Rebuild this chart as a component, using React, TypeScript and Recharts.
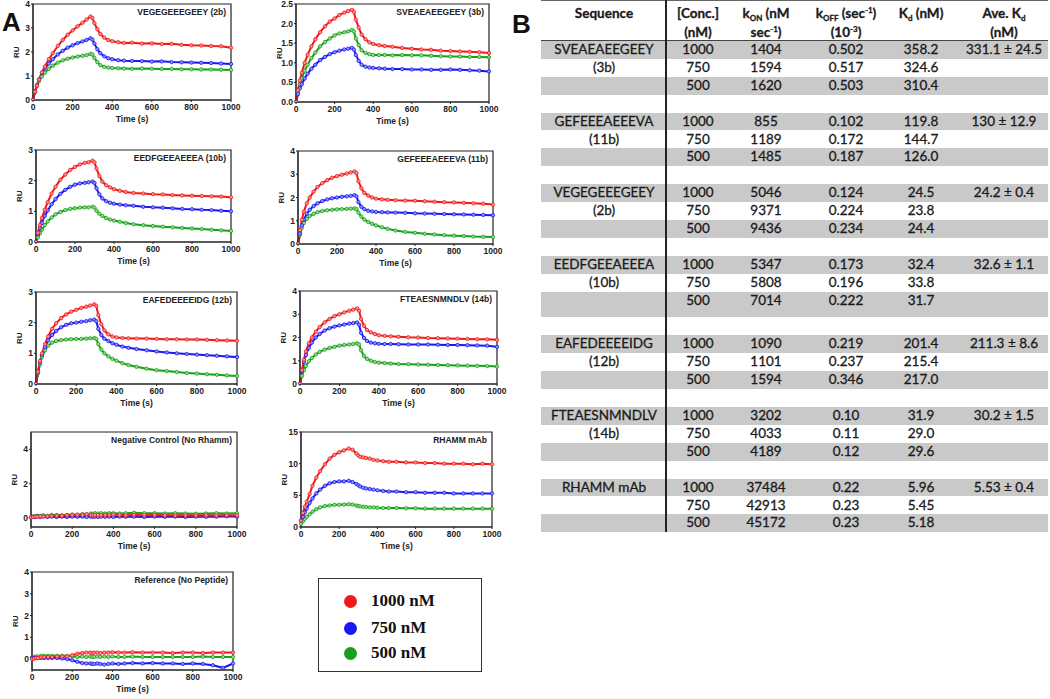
import React from 'react';
import { LineChart, Line, XAxis, YAxis, ReferenceArea } from 'recharts';

// ---------- time base (s) shared by all sensorgrams ----------
const TIME = [0, 10, 20, 30, 45, 60, 80, 100, 125, 150, 175, 200, 225, 250, 270, 290, 300, 310, 325, 340, 360, 380, 400, 430, 460, 500, 550, 600, 650, 700, 750, 800, 850, 900, 950, 1000];
const X_TICKS = [0, 200, 400, 600, 800, 1000];

// ---------- VEGEGEEEGEEY (2b) ----------
const P2B_RED = [0, 0.35, 0.6, 0.85, 1.15, 1.4, 1.7, 1.95, 2.25, 2.5, 2.72, 2.9, 3.07, 3.22, 3.35, 3.48, 3.42, 3.2, 2.95, 2.75, 2.6, 2.5, 2.45, 2.41, 2.38, 2.39, 2.35, 2.36, 2.33, 2.34, 2.3, 2.28, 2.27, 2.25, 2.24, 2.18];
const P2B_BLUE = [0, 0.35, 0.62, 0.85, 1.12, 1.32, 1.52, 1.7, 1.9, 2.05, 2.18, 2.28, 2.37, 2.44, 2.5, 2.57, 2.52, 2.35, 2.12, 1.95, 1.82, 1.74, 1.7, 1.66, 1.64, 1.63, 1.62, 1.6, 1.61, 1.58, 1.57, 1.56, 1.55, 1.54, 1.52, 1.5];
const P2B_GREEN = [0, 0.32, 0.58, 0.78, 0.98, 1.14, 1.3, 1.43, 1.56, 1.65, 1.72, 1.77, 1.81, 1.84, 1.87, 1.92, 1.9, 1.75, 1.58, 1.45, 1.38, 1.35, 1.33, 1.32, 1.31, 1.3, 1.31, 1.3, 1.29, 1.29, 1.28, 1.28, 1.27, 1.27, 1.26, 1.25];

// ---------- SVEAEAEEGEEY (3b) ----------
const P3B_RED = [0, 0.3, 0.55, 0.75, 1.0, 1.2, 1.42, 1.6, 1.78, 1.93, 2.05, 2.13, 2.22, 2.28, 2.32, 2.35, 2.3, 2.1, 1.9, 1.72, 1.6, 1.52, 1.48, 1.45, 1.43, 1.41, 1.38, 1.36, 1.34, 1.33, 1.31, 1.3, 1.29, 1.28, 1.27, 1.25];
const P3B_BLUE = [0, 0.2, 0.35, 0.45, 0.6, 0.72, 0.85, 0.95, 1.07, 1.15, 1.22, 1.27, 1.31, 1.34, 1.36, 1.38, 1.34, 1.2, 1.05, 0.95, 0.9, 0.88, 0.87, 0.86, 0.85, 0.84, 0.84, 0.83, 0.83, 0.82, 0.82, 0.83, 0.82, 0.81, 0.8, 0.78];
const P3B_GREEN = [0, 0.25, 0.45, 0.6, 0.8, 0.95, 1.12, 1.26, 1.42, 1.53, 1.62, 1.7, 1.75, 1.78, 1.8, 1.84, 1.8, 1.62, 1.45, 1.32, 1.25, 1.22, 1.2, 1.2, 1.2, 1.19, 1.2, 1.19, 1.19, 1.18, 1.17, 1.16, 1.16, 1.15, 1.15, 1.14];

// ---------- EEDFGEEAEEEA (10b) ----------
const P10B_RED = [0, 0.3, 0.55, 0.78, 1.05, 1.3, 1.58, 1.8, 2.03, 2.2, 2.35, 2.45, 2.53, 2.58, 2.6, 2.65, 2.6, 2.4, 2.15, 1.97, 1.85, 1.78, 1.72, 1.67, 1.63, 1.6, 1.58, 1.56, 1.55, 1.53, 1.52, 1.51, 1.5, 1.49, 1.48, 1.46];
const P10B_BLUE = [0, 0.25, 0.45, 0.62, 0.85, 1.03, 1.23, 1.4, 1.57, 1.7, 1.8, 1.87, 1.91, 1.93, 1.95, 1.97, 1.93, 1.75, 1.55, 1.42, 1.33, 1.28, 1.25, 1.22, 1.2, 1.18, 1.15, 1.13, 1.12, 1.1, 1.08, 1.07, 1.05, 1.04, 1.02, 1.0];
const P10B_GREEN = [0, 0.15, 0.28, 0.4, 0.55, 0.67, 0.8, 0.9, 0.98, 1.04, 1.08, 1.1, 1.12, 1.13, 1.13, 1.15, 1.12, 1.02, 0.92, 0.85, 0.78, 0.73, 0.7, 0.66, 0.62, 0.58, 0.55, 0.52, 0.5, 0.48, 0.46, 0.44, 0.42, 0.4, 0.38, 0.36];

// ---------- GEFEEEAEEEVA (11b) ----------
const P11B_RED = [0, 0.6, 1.05, 1.4, 1.75, 2.0, 2.25, 2.45, 2.62, 2.75, 2.85, 2.92, 2.98, 3.03, 3.08, 3.12, 3.05, 2.7, 2.4, 2.2, 2.08, 2.0, 1.95, 1.92, 1.9, 1.88, 1.87, 1.86, 1.84, 1.82, 1.8, 1.79, 1.77, 1.75, 1.73, 1.7];
const P11B_BLUE = [0, 0.45, 0.8, 1.05, 1.3, 1.47, 1.63, 1.75, 1.85, 1.92, 1.97, 2.0, 2.03, 2.05, 2.07, 2.1, 2.05, 1.8, 1.6, 1.5, 1.43, 1.4, 1.38, 1.37, 1.36, 1.35, 1.34, 1.32, 1.31, 1.3, 1.29, 1.28, 1.27, 1.26, 1.25, 1.24];
const P11B_GREEN = [0, 0.4, 0.7, 0.9, 1.08, 1.2, 1.3, 1.37, 1.42, 1.45, 1.47, 1.49, 1.5, 1.51, 1.52, 1.53, 1.5, 1.35, 1.18, 1.05, 0.95, 0.87, 0.8, 0.72, 0.65, 0.58, 0.52, 0.48, 0.44, 0.41, 0.38, 0.36, 0.34, 0.32, 0.31, 0.3];

// ---------- EAFEDEEEEIDG (12b) ----------
const P12B_RED = [0, 0.4, 0.75, 1.0, 1.3, 1.55, 1.8, 1.98, 2.15, 2.27, 2.36, 2.42, 2.48, 2.52, 2.56, 2.6, 2.55, 2.25, 1.95, 1.75, 1.62, 1.55, 1.52, 1.5, 1.49, 1.48, 1.48, 1.47, 1.46, 1.46, 1.45, 1.45, 1.44, 1.43, 1.42, 1.41];
const P12B_BLUE = [0, 0.38, 0.7, 0.95, 1.2, 1.42, 1.6, 1.73, 1.85, 1.93, 1.98, 2.0, 2.03, 2.05, 2.08, 2.1, 2.05, 1.8, 1.6, 1.48, 1.4, 1.33, 1.28, 1.22, 1.18, 1.14, 1.1, 1.06, 1.03, 1.0, 0.98, 0.96, 0.94, 0.92, 0.9, 0.88];
const P12B_GREEN = [0, 0.35, 0.65, 0.88, 1.1, 1.25, 1.35, 1.4, 1.43, 1.45, 1.46, 1.47, 1.47, 1.48, 1.49, 1.5, 1.47, 1.3, 1.12, 1.0, 0.9, 0.82, 0.76, 0.68, 0.62, 0.56, 0.5, 0.45, 0.42, 0.39, 0.36, 0.34, 0.32, 0.3, 0.28, 0.26];

// ---------- FTEAESNMNDLV (14b) ----------
const P14B_RED = [0, 0.6, 1.05, 1.4, 1.75, 2.0, 2.25, 2.45, 2.65, 2.8, 2.92, 3.0, 3.08, 3.15, 3.2, 3.25, 3.15, 2.8, 2.5, 2.32, 2.22, 2.15, 2.1, 2.07, 2.05, 2.03, 2.01, 2.0, 1.98, 1.97, 1.96, 1.95, 1.94, 1.93, 1.92, 1.9];
const P14B_BLUE = [0, 0.55, 0.95, 1.25, 1.55, 1.78, 2.0, 2.15, 2.3, 2.4, 2.47, 2.52, 2.56, 2.6, 2.62, 2.65, 2.55, 2.2, 1.98, 1.85, 1.78, 1.75, 1.73, 1.72, 1.72, 1.71, 1.7, 1.7, 1.7, 1.69, 1.68, 1.68, 1.67, 1.66, 1.65, 1.6];
const P14B_GREEN = [0, 0.35, 0.6, 0.78, 0.98, 1.12, 1.27, 1.38, 1.48, 1.55, 1.6, 1.65, 1.68, 1.7, 1.72, 1.75, 1.7, 1.45, 1.2, 1.08, 1.0, 0.95, 0.92, 0.9, 0.88, 0.86, 0.85, 0.84, 0.83, 0.82, 0.81, 0.8, 0.79, 0.78, 0.77, 0.75];

// ---------- Negative Control (No Rhamm) ----------
const NEG_RED = [0.05, 0.08, 0.1, 0.1, 0.12, 0.1, 0.12, 0.13, 0.15, 0.15, 0.18, 0.2, 0.22, 0.2, 0.25, 0.2, 0.18, 0.2, 0.2, 0.18, 0.2, 0.2, 0.22, 0.2, 0.18, 0.2, 0.18, 0.2, 0.18, 0.17, 0.18, 0.17, 0.18, 0.16, 0.18, 0.17];
const NEG_BLUE = [0.05, 0.1, 0.08, 0.1, 0.08, 0.1, 0.08, 0.1, 0.08, 0.1, 0.08, 0.1, 0.09, 0.1, 0.08, 0.1, 0.09, 0.1, 0.08, 0.1, 0.09, 0.1, 0.08, 0.1, 0.09, 0.1, 0.08, 0.1, 0.09, 0.1, 0.08, 0.1, 0.09, 0.1, 0.12, 0.1];
const NEG_GREEN = [0.05, 0.1, 0.12, 0.15, 0.15, 0.18, 0.15, 0.2, 0.2, 0.18, 0.2, 0.22, 0.2, 0.25, 0.22, 0.28, 0.25, 0.3, 0.28, 0.3, 0.28, 0.3, 0.3, 0.28, 0.3, 0.32, 0.3, 0.3, 0.28, 0.3, 0.28, 0.27, 0.28, 0.3, 0.28, 0.3];

// ---------- RHAMM mAb ----------
const MAB_RED = [1.0, 2.2, 3.2, 4.0, 5.2, 6.5, 7.8, 8.8, 9.9, 10.8, 11.4, 11.8, 12.1, 12.4, 12.2, 11.6, 11.3, 11.1, 11.0, 10.9, 10.8, 10.6, 10.5, 10.4, 10.3, 10.3, 10.2, 10.2, 10.1, 10.1, 10.0, 10.0, 10.0, 9.9, 10.0, 9.9];
const MAB_BLUE = [1.0, 1.6, 2.3, 2.9, 3.8, 4.5, 5.3, 5.9, 6.5, 6.9, 7.1, 7.2, 7.2, 7.3, 7.1, 6.8, 6.6, 6.4, 6.2, 6.1, 6.0, 5.9, 5.8, 5.7, 5.6, 5.6, 5.5, 5.5, 5.4, 5.4, 5.4, 5.3, 5.3, 5.3, 5.3, 5.3];
const MAB_GREEN = [0.5, 0.9, 1.3, 1.6, 2.0, 2.4, 2.8, 3.1, 3.3, 3.4, 3.5, 3.5, 3.55, 3.6, 3.55, 3.4, 3.3, 3.25, 3.2, 3.15, 3.1, 3.1, 3.05, 3.0, 3.0, 3.0, 2.95, 2.95, 2.9, 2.9, 2.9, 2.9, 2.9, 2.9, 2.9, 2.9];

// ---------- Reference (No Peptide) ----------
const REF_RED = [0.0, 0.02, 0.05, 0.05, 0.08, 0.1, 0.1, 0.1, 0.12, 0.12, 0.13, 0.18, 0.25, 0.28, 0.3, 0.3, 0.28, 0.3, 0.3, 0.28, 0.3, 0.3, 0.32, 0.3, 0.3, 0.32, 0.3, 0.3, 0.3, 0.28, 0.3, 0.3, 0.28, 0.3, 0.3, 0.3];
const REF_BLUE = [0.05, 0.05, 0.05, 0.05, 0.05, 0.05, 0.05, 0.05, 0.05, 0.03, 0.0, -0.05, -0.12, -0.18, -0.2, -0.2, -0.22, -0.22, -0.2, -0.22, -0.25, -0.22, -0.2, -0.22, -0.2, -0.18, -0.2, -0.18, -0.2, -0.2, -0.22, -0.2, -0.22, -0.28, -0.4, -0.2];
const REF_GREEN = [0.08, 0.1, 0.12, 0.12, 0.15, 0.15, 0.15, 0.15, 0.15, 0.15, 0.15, 0.12, 0.1, 0.12, 0.1, 0.12, 0.1, 0.1, 0.12, 0.1, 0.12, 0.1, 0.12, 0.1, 0.1, 0.12, 0.1, 0.1, 0.1, 0.1, 0.1, 0.1, 0.12, 0.1, 0.1, 0.1];

// ---------- legend ----------
const LEGEND_LABELS = ['1000 nM', '750 nM', '500 nM'];

// ---------- table B ----------
const SEQ_NAMES = ['SVEAEAEEGEEY', 'GEFEEEAEEEVA', 'VEGEGEEEGEEY', 'EEDFGEEAEEEA', 'EAFEDEEEEIDG', 'FTEAESNMNDLV', 'RHAMM mAb'];
const SEQ_IDS = ['(3b)', '(11b)', '(2b)', '(10b)', '(12b)', '(14b)', ''];
const CONC = ['1000', '750', '500'];
const KON = [['1404', '1594', '1620'], ['855', '1189', '1485'], ['5046', '9371', '9436'], ['5347', '5808', '7014'], ['1090', '1101', '1594'], ['3202', '4033', '4189'], ['37484', '42913', '45172']];
const KOFF = [['0.502', '0.517', '0.503'], ['0.102', '0.172', '0.187'], ['0.124', '0.224', '0.234'], ['0.173', '0.196', '0.222'], ['0.219', '0.237', '0.346'], ['0.10', '0.11', '0.12'], ['0.22', '0.23', '0.23']];
const KD = [['358.2', '324.6', '310.4'], ['119.8', '144.7', '126.0'], ['24.5', '23.8', '24.4'], ['32.4', '33.8', '31.7'], ['201.4', '215.4', '217.0'], ['31.9', '29.0', '29.6'], ['5.96', '5.45', '5.18']];
const AVE_KD = ['331.1 ± 24.5', '130 ± 12.9', '24.2 ± 0.4', '32.6 ± 1.1', '211.3 ± 8.6', '30.2 ± 1.5', '5.53 ± 0.4'];

// ---------- styles ----------
const RED = '#f01818';
const BLUE = '#1818f0';
const GREEN = '#18a018';
const RED_T = '#ff9090';
const BLUE_T = '#9090ff';
const GREEN_T = '#90dd90';
const AXIS_FONT = 'Liberation Sans, Arial, sans-serif';
const TICK = { fontSize: 8.5, fontWeight: 700, fill: '#222', fontFamily: AXIS_FONT };

const YW = 22, ML = 2, MT = 6, MR = 14, XH = 26, MB = 2;

type PanelProps = {
  frame: [number, number, number, number];
  title: string;
  yDomain: [number, number];
  yTicks: number[];
  fmt?: (v: number) => string;
  red: number[];
  blue: number[];
  green: number[];
};

function Panel({ frame, title, yDomain, yTicks, fmt, red, blue, green }: PanelProps) {
  const [L, T, R, B] = frame;
  const w = R - L + YW + ML + MR;
  const h = B - T + MT + XH + MB;
  const data = TIME.map((t, i) => ({ t, r: red[i], b: blue[i], g: green[i] }));
  const series = [
    { key: 'g', c: GREEN, tint: GREEN_T },
    { key: 'b', c: BLUE, tint: BLUE_T },
    { key: 'r', c: RED, tint: RED_T },
  ];
  return (
    <div style={{ position: 'absolute', left: L - YW - ML, top: T - MT }}>
      <LineChart width={w} height={h} data={data} margin={{ top: MT, right: MR, left: ML, bottom: MB }}>
        <XAxis
          dataKey="t"
          type="number"
          domain={[0, 1000]}
          ticks={X_TICKS}
          interval={0}
          height={XH}
          tickSize={2}
          tickMargin={2}
          tick={TICK}
          stroke="#222"
          label={{ value: 'Time (s)', position: 'insideBottom', offset: 4, style: { ...TICK } }}
        />
        <YAxis
          type="number"
          domain={yDomain}
          ticks={yTicks}
          interval={0}
          allowDataOverflow
          width={YW}
          tickSize={2}
          tickMargin={1}
          tick={TICK}
          tickFormatter={fmt}
          stroke="#222"
          label={{ value: 'RU', angle: -90, position: 'insideLeft', offset: 5, dy: 6, style: { ...TICK, fontSize: 8 } }}
        />
        <ReferenceArea
          x1={0}
          x2={1000}
          y1={yDomain[0]}
          y2={yDomain[1]}
          fill="none"
          stroke="#222"
          strokeWidth={1.2}
          ifOverflow="visible"
          label={{ value: title, position: 'insideTopRight', offset: 5, style: { ...TICK, fontSize: 8.5 } }}
        />
        {series.map((s) => (
          <Line
            key={s.key}
            dataKey={s.key}
            type="linear"
            stroke={s.c}
            strokeWidth={2}
            dot={{ r: 1.7, fill: s.tint, stroke: s.c, strokeWidth: 0.8 }}
            activeDot={false}
            isAnimationActive={false}
          />
        ))}
      </LineChart>
    </div>
  );
}

const TABLE_FONT = 'Lato, "Open Sans", sans-serif';
const GRAY = '#c9c9c9';
const ROW_H = 17.9;
const COL_CENTERS = [604, 698, 766, 846, 921, 1004];
const TABLE_LEFT = 541;

function Cell({ cx, children, h }: { cx: number; children: React.ReactNode; h: number }) {
  return (
    <div
      style={{
        position: 'absolute',
        left: cx - TABLE_LEFT - 70,
        width: 140,
        top: 0,
        height: h,
        lineHeight: `${ROW_H}px`,
        textAlign: 'center',
        whiteSpace: 'nowrap',
      }}
    >
      {children}
    </div>
  );
}

function Table() {
  const rows: React.ReactNode[] = [];
  let y = 41;
  SEQ_NAMES.forEach((name, g) => {
    for (let i = 0; i < 3; i++) {
      const h = g === 3 && i === 2 ? ROW_H + 8 : ROW_H;
      const gray = i !== 1;
      rows.push(
        <div
          key={`${g}-${i}`}
          style={{ position: 'absolute', left: 0, top: y, width: 507, height: h, background: gray ? GRAY : 'transparent' }}
        >
          <Cell cx={COL_CENTERS[0]} h={h}>{i === 0 ? name : i === 1 ? SEQ_IDS[g] : ''}</Cell>
          <Cell cx={COL_CENTERS[1]} h={h}>{CONC[i]}</Cell>
          <Cell cx={COL_CENTERS[2]} h={h}>{KON[g][i]}</Cell>
          <Cell cx={COL_CENTERS[3]} h={h}>{KOFF[g][i]}</Cell>
          <Cell cx={COL_CENTERS[4]} h={h}>{KD[g][i]}</Cell>
          <Cell cx={COL_CENTERS[5]} h={h}>{i === 0 ? AVE_KD[g] : ''}</Cell>
        </div>
      );
      y += h;
    }
    if (g < SEQ_NAMES.length - 1) y += ROW_H;
  });
  const sub = { fontSize: 8, position: 'relative', top: 3, lineHeight: '0' } as React.CSSProperties;
  const sup = { fontSize: 8, position: 'relative', top: -5, lineHeight: '0' } as React.CSSProperties;
  const head = (cx: number, l1: React.ReactNode, l2?: React.ReactNode) => (
    <div
      style={{
        position: 'absolute',
        left: cx - TABLE_LEFT - 70,
        width: 140,
        top: 4,
        textAlign: 'center',
        fontWeight: 700,
        whiteSpace: 'nowrap',
      }}
    >
      <div style={{ height: 19, lineHeight: '19px' }}>{l1}</div>
      {l2 ? <div style={{ height: 19, lineHeight: '19px' }}>{l2}</div> : null}
    </div>
  );
  return (
    <div
      style={{
        position: 'absolute',
        left: TABLE_LEFT,
        top: 0,
        width: 507,
        height: 540,
        fontFamily: TABLE_FONT,
        fontSize: 13.5,
        color: '#1a1a1a',
        WebkitTextStroke: '0.3px #1a1a1a',
      }}
    >
      <div style={{ position: 'absolute', left: 0, top: 0, width: 507, height: 1, background: '#666' }} />
      {head(COL_CENTERS[0], 'Sequence')}
      {head(COL_CENTERS[1], '[Conc.]', '(nM)')}
      {head(COL_CENTERS[2], <span>k<span style={sub}>ON</span> (nM</span>, <span>sec<span style={sup}>-1</span>)</span>)}
      {head(COL_CENTERS[3], <span>k<span style={sub}>OFF</span> (sec<span style={sup}>-1</span>)</span>, <span>(10<span style={sup}>-3</span>)</span>)}
      {head(COL_CENTERS[4], <span>K<span style={sub}>d</span> (nM)</span>)}
      {head(COL_CENTERS[5], <span>Ave. K<span style={sub}>d</span></span>, '(nM)')}
      <div style={{ position: 'absolute', left: 0, top: 40, width: 507, height: 1, background: '#444' }} />
      {rows}
      <div style={{ position: 'absolute', left: 666 - TABLE_LEFT - 1, top: 0, width: 1.6, height: y, background: '#222' }} />
    </div>
  );
}

function LegendBox() {
  const colors = [RED, BLUE, GREEN];
  const ys = [600, 627, 652];
  return (
    <div
      style={{
        position: 'absolute',
        left: 318,
        top: 578,
        width: 164,
        height: 94,
        boxSizing: 'border-box',
        border: '1.5px solid #333',
      }}
    >
      {LEGEND_LABELS.map((lab, i) => (
        <React.Fragment key={lab}>
          <div
            style={{
              position: 'absolute',
              left: 349 - 318 - 6.5,
              top: ys[i] - 578 - 6.5,
              width: 13,
              height: 13,
              borderRadius: '50%',
              background: colors[i],
            }}
          />
          <div
            style={{
              position: 'absolute',
              left: 370 - 318,
              top: ys[i] - 578 - 11,
              height: 22,
              lineHeight: '22px',
              fontFamily: '"Liberation Serif", "Times New Roman", serif',
              fontWeight: 700,
              fontSize: 17,
              color: '#111',
              whiteSpace: 'nowrap',
            }}
          >
            {lab}
          </div>
        </React.Fragment>
      ))}
    </div>
  );
}

const fmt1 = (v: number) => v.toFixed(1);

export default function App() {
  const big = { position: 'absolute', fontFamily: AXIS_FONT, fontWeight: 700, fontSize: 26, lineHeight: '26px', color: '#111' } as React.CSSProperties;
  return (
    <div style={{ position: 'absolute', left: 0, top: 0, width: 1050, height: 699, background: '#fff', overflow: 'hidden' }}>
      <div style={{ ...big, left: 2, top: 9 }}>A</div>
      <div style={{ ...big, left: 512, top: 11 }}>B</div>
      <Panel frame={[33, 4, 231, 100]} title="VEGEGEEEGEEY (2b)" yDomain={[0, 4]} yTicks={[0, 1, 2, 3, 4]} red={P2B_RED} blue={P2B_BLUE} green={P2B_GREEN} />
      <Panel frame={[296, 4, 489, 102]} title="SVEAEAEEGEEY (3b)" yDomain={[0, 2.5]} yTicks={[0, 0.5, 1, 1.5, 2, 2.5]} fmt={fmt1} red={P3B_RED} blue={P3B_BLUE} green={P3B_GREEN} />
      <Panel frame={[36, 150, 231, 242]} title="EEDFGEEAEEEA (10b)" yDomain={[0, 3]} yTicks={[0, 1, 2, 3]} red={P10B_RED} blue={P10B_BLUE} green={P10B_GREEN} />
      <Panel frame={[298, 151, 493, 244]} title="GEFEEEAEEEVA (11b)" yDomain={[0, 4]} yTicks={[0, 1, 2, 3, 4]} red={P11B_RED} blue={P11B_BLUE} green={P11B_GREEN} />
      <Panel frame={[36, 292, 237, 384]} title="EAFEDEEEEIDG (12b)" yDomain={[0, 3]} yTicks={[0, 1, 2, 3]} red={P12B_RED} blue={P12B_BLUE} green={P12B_GREEN} />
      <Panel frame={[300, 291, 497, 384]} title="FTEAESNMNDLV (14b)" yDomain={[0, 4]} yTicks={[0, 1, 2, 3, 4]} red={P14B_RED} blue={P14B_BLUE} green={P14B_GREEN} />
      <Panel frame={[31, 432, 237, 527]} title="Negative  Control (No  Rhamm)" yDomain={[-0.5, 5]} yTicks={[0, 2, 4]} red={NEG_RED} blue={NEG_BLUE} green={NEG_GREEN} />
      <Panel frame={[301, 432, 492, 527]} title="RHAMM mAb" yDomain={[0, 15]} yTicks={[0, 5, 10, 15]} red={MAB_RED} blue={MAB_BLUE} green={MAB_GREEN} />
      <Panel frame={[32, 572, 233, 670]} title="Reference (No Peptide)" yDomain={[-0.5, 4]} yTicks={[0, 1, 2, 3, 4]} red={REF_RED} blue={REF_BLUE} green={REF_GREEN} />
      <LegendBox />
      <Table />
    </div>
  );
}
